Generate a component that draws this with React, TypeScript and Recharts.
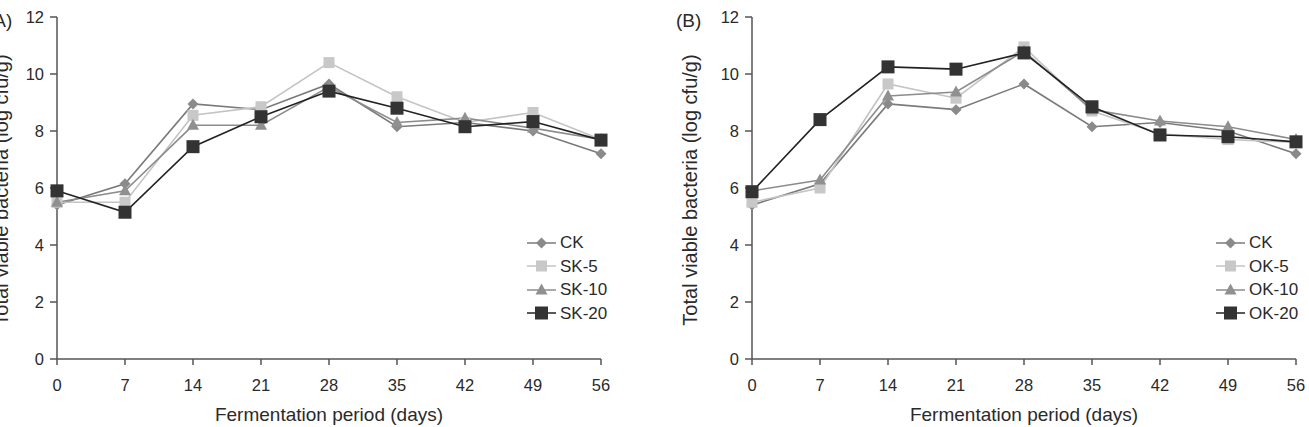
import { Legend, Line, LineChart, XAxis, YAxis, Label } from "recharts"

const days = [0, 7, 14, 21, 28, 35, 42, 49, 56]
const yTicks = [0, 2, 4, 6, 8, 10, 12]

const ckValues = [5.4, 6.15, 8.95, 8.75, 9.65, 8.15, 8.3, 8.0, 7.2]
const sk5Values = [5.5, 5.5, 8.55, 8.85, 10.4, 9.2, 8.3, 8.65, 7.7]
const sk10Values = [5.5, 5.9, 8.2, 8.2, 9.55, 8.3, 8.45, 8.1, 7.7]
const sk20Values = [5.9, 5.15, 7.45, 8.5, 9.4, 8.8, 8.15, 8.33, 7.68]

const ok5Values = [5.5, 6.0, 9.65, 9.15, 10.95, 8.7, 7.9, 7.7, 7.6]
const ok10Values = [5.9, 6.28, 9.23, 9.37, 10.8, 8.75, 8.35, 8.15, 7.7]
const ok20Values = [5.87, 8.4, 10.25, 10.17, 10.74, 8.85, 7.86, 7.8, 7.62]

const font = "'Liberation Sans', Arial, sans-serif"
const textColor = "#2a2a2a"

type Marker = "diamond" | "square" | "smallSquare" | "triangle"

type SeriesStyle = {
  key: string
  name: string
  stroke: string
  fill: string
  marker: Marker
}

function drawMarker(marker: Marker, cx: number, cy: number, fill: string, key?: string | number) {
  if (marker === "diamond") {
    const r = 5.5
    return (
      <polygon key={key} points={`${cx},${cy - r} ${cx + r},${cy} ${cx},${cy + r} ${cx - r},${cy}`} fill={fill} />
    )
  }
  if (marker === "triangle") {
    return (
      <polygon key={key} points={`${cx},${cy - 6.5} ${cx + 6},${cy + 4.5} ${cx - 6},${cy + 4.5}`} fill={fill} />
    )
  }
  const s = marker === "square" ? 13 : 11
  return <rect key={key} x={cx - s / 2} y={cy - s / 2} width={s} height={s} fill={fill} />
}

function makeRows(groupVals: number[][], keys: string[]) {
  return days.map((d, i) => {
    const row: Record<string, number> = { day: d }
    keys.forEach((k, j) => {
      row[k] = groupVals[j][i]
    })
    return row
  })
}

const seriesA: SeriesStyle[] = [
  { key: "ck", name: "CK", stroke: "#7a7a7a", fill: "#8a8a8a", marker: "diamond" },
  { key: "s5", name: "SK-5", stroke: "#c4c4c4", fill: "#c8c8c8", marker: "smallSquare" },
  { key: "s10", name: "SK-10", stroke: "#8c8c8c", fill: "#909090", marker: "triangle" },
  { key: "s20", name: "SK-20", stroke: "#222222", fill: "#333333", marker: "square" },
]

const seriesB: SeriesStyle[] = [
  { key: "ck", name: "CK", stroke: "#7a7a7a", fill: "#8a8a8a", marker: "diamond" },
  { key: "s5", name: "OK-5", stroke: "#c4c4c4", fill: "#c8c8c8", marker: "smallSquare" },
  { key: "s10", name: "OK-10", stroke: "#8c8c8c", fill: "#909090", marker: "triangle" },
  { key: "s20", name: "OK-20", stroke: "#222222", fill: "#333333", marker: "square" },
]

const dataA = makeRows([ckValues, sk5Values, sk10Values, sk20Values], ["ck", "s5", "s10", "s20"])
const dataB = makeRows([ckValues, ok5Values, ok10Values, ok20Values], ["ck", "s5", "s10", "s20"])

function LegendBox({ series }: { series: SeriesStyle[] }) {
  return (
    <div style={{ fontFamily: font, fontSize: 17, color: textColor, lineHeight: 1 }}>
      {series.map((s) => (
        <div key={s.key} style={{ display: "flex", alignItems: "center", height: 23.5 }}>
          <svg width={29} height={16} style={{ display: "block" }}>
            <line x1={0} y1={8} x2={29} y2={8} stroke={s.stroke} strokeWidth={1.5} />
            {drawMarker(s.marker, 14.5, 8, s.fill)}
          </svg>
          <span style={{ marginLeft: 4 }}>{s.name}</span>
        </div>
      ))}
    </div>
  )
}

function makeYTitle(dx: number) {
  return function YTitle(props: any) {
    const vb = props.viewBox
    const x = vb.x + vb.width - dx
    const y = 190
    return (
      <text x={x} y={y} transform={`rotate(-90 ${x} ${y})`} textAnchor="middle" dominantBaseline="central"
        fontFamily={font} fontSize={20} fill={textColor}>
        Total viable bacteria (log cfu/g)
      </text>
    )
  }
}

type PanelProps = {
  data: Record<string, number>[]
  series: SeriesStyle[]
  width: number
  left: number
  right: number
  legendLeft: number
  titleDx: number
}

function Panel(props: PanelProps) {
  return (
    <LineChart width={props.width} height={427} data={props.data}
      margin={{ top: 17, right: props.right, left: props.left, bottom: 0 }}>
      <XAxis dataKey="day" type="number" domain={[0, 56]} ticks={days} height={68}
        stroke="#555" strokeWidth={1.5} tickSize={6} tickMargin={14}
        tick={{ fontFamily: font, fontSize: 16.5, fill: textColor }}>
        <Label value="Fermentation period (days)" position="insideBottom" offset={6}
          style={{ fontFamily: font, fontSize: 19, fill: textColor }} />
      </XAxis>
      <YAxis domain={[0, 12]} ticks={yTicks} width={50} stroke="#555" strokeWidth={1.5} tickSize={7} tickMargin={6}
        tick={{ fontFamily: font, fontSize: 16.5, fill: textColor }} label={{ content: makeYTitle(props.titleDx) }} />
      <Legend layout="vertical" align="center" verticalAlign="middle"
        wrapperStyle={{ left: props.legendLeft, top: 231, width: 100 }}
        content={() => <LegendBox series={props.series} />} />
      {props.series.map((s) => (
        <Line key={s.key} dataKey={s.key} name={s.name} stroke={s.stroke} strokeWidth={1.6}
          isAnimationActive={false} activeDot={false}
          dot={(p: any) => drawMarker(s.marker, p.cx, p.cy, s.fill, `${s.key}-${p.index}`)} />
      ))}
    </LineChart>
  )
}

export default function App() {
  return (
    <div style={{ position: "absolute", left: 0, top: 0, width: 1309, height: 427, overflow: "hidden", background: "#fff" }}>
      <div style={{ position: "absolute", left: 0, top: 0 }}>
        <Panel data={dataA} series={seriesA} width={640} left={7} right={39} legendLeft={527} titleDx={56} />
      </div>
      <div style={{ position: "absolute", left: 640, top: 0 }}>
        <Panel data={dataB} series={seriesB} width={669} left={62} right={13} legendLeft={576} titleDx={62} />
      </div>
      <div style={{ position: "absolute", left: -13, top: 10, fontFamily: font, fontSize: 19, color: textColor }}>(A)</div>
      <div style={{ position: "absolute", left: 676, top: 10, fontFamily: font, fontSize: 19, color: textColor }}>(B)</div>
    </div>
  )
}
